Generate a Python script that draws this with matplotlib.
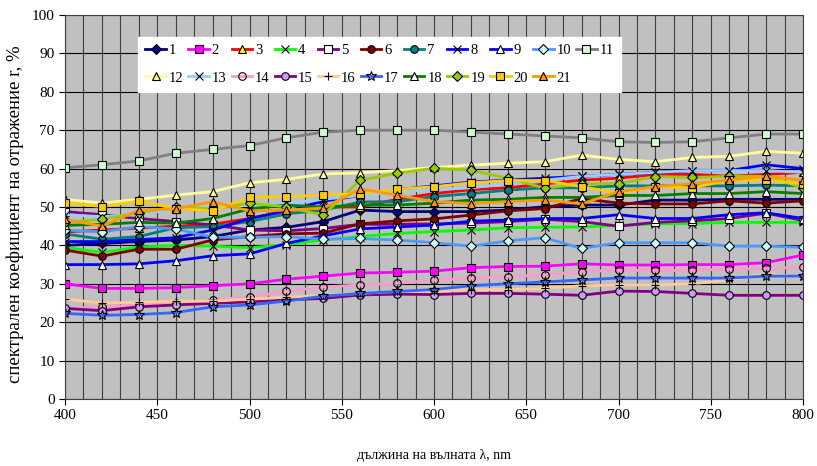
import numpy as np
import matplotlib
matplotlib.use('Agg')
import matplotlib.pyplot as plt
from matplotlib.ticker import MultipleLocator

plt.rcParams['font.family'] = ['Liberation Serif', 'DejaVu Serif']

wavelength = np.arange(400, 801, 20)

s1 = [40, 40.5, 41, 41.4, 42.3, 44, 44.7, 46.2, 49.2, 48.8, 48.8, 48.8, 49.2, 50.1, 50.5, 50.5, 51.8, 51.8, 52, 52, 52]
s2 = [30, 28.8, 28.8, 29, 29.5, 30, 31.2, 32, 32.8, 33, 33.3, 34.2, 34.5, 34.6, 35.2, 34.9, 34.9, 35, 35, 35.5, 37.5]
s3 = [43.5, 44, 44.5, 45, 45.5, 47, 49, 50, 50, 52, 53.5, 54.5, 55, 56, 57, 57.5, 58.5, 58.5, 58, 58.5, 59]
s4 = [39.5, 38.2, 39.6, 40, 39.8, 39.4, 40.2, 41.4, 42.3, 43.1, 43.6, 44, 44.6, 44.7, 44.8, 45.2, 45.6, 45.7, 46, 46, 46]
s5 = [48.8, 48, 47, 46.2, 45.3, 44, 43.8, 44.4, 45.5, 45.5, 45.6, 45.8, 46.2, 46.8, 46.2, 45, 46, 46.4, 47, 48.4, 46.5]
s6 = [38.8, 37.2, 39, 39, 41.4, 42.3, 43, 43.2, 45.6, 46.4, 46.9, 47.9, 49, 49.6, 52.2, 51, 50.8, 50.8, 51.6, 51, 51.6]
s7 = [43, 41.6, 42.3, 44.6, 44.9, 46.2, 48.2, 49.2, 51.3, 51.4, 52.7, 53.5, 54.4, 55, 55, 55.5, 55.5, 55.5, 55.5, 55.7, 55.5]
s8 = [41, 41, 41.5, 42, 44, 47, 49, 51.5, 53, 54.5, 55.5, 56.5, 57, 57.5, 58, 58.5, 59, 59.5, 59.5, 61, 60]
s9 = [35, 35, 35.2, 36, 37.3, 37.8, 40.5, 42.5, 44.3, 44.8, 45.3, 46.3, 46.6, 47, 47, 48, 47, 47, 48, 48.5, 47]
s10 = [44, 43.5, 44.9, 44.3, 42.1, 42.1, 42.3, 41.6, 41.8, 41.4, 40.7, 39.8, 41.2, 42, 39.2, 40.7, 40.7, 40.7, 39.8, 39.8, 39.5]
s11 = [60.2, 61, 62, 64, 65, 66, 68, 69.5, 70, 70, 70, 69.5, 69, 68.5, 68, 67, 66.8, 67, 68, 69, 69]
s12 = [52, 51, 52, 53.1, 54, 56.3, 57.2, 58.6, 58.9, 59.5, 60.3, 60.9, 61.4, 61.8, 63.5, 62.4, 61.8, 62.9, 63.2, 64.5, 64]
s13 = [48, 47.5, 48, 49.5, 50, 50.5, 51, 52, 53, 54, 54.5, 55, 56, 57, 58, 58.5, 59, 59.5, 59.5, 59.5, 59]
s14 = [23.5, 24, 24.5, 25, 25.8, 26.6, 28, 29.2, 29.7, 30.1, 31, 31.4, 31.9, 32.3, 33.2, 33.5, 33.5, 33.5, 33.8, 34, 34.3]
s15 = [23.6, 23, 24, 24.5, 24.9, 25.3, 25.8, 26.2, 27.1, 27.3, 27.2, 27.5, 27.5, 27.3, 27, 28.1, 28, 27.5, 27, 27, 27]
s16 = [26, 25, 25.2, 25.5, 25.5, 26, 26.5, 27, 27.5, 28, 28, 28.5, 28.5, 28.8, 29.5, 29.7, 29.7, 30, 31, 32.5, 31.7]
s17 = [22.3, 21.8, 22, 22.5, 24, 24.5, 25.5, 26.8, 27.5, 28, 28.5, 29.5, 30, 30.5, 31, 31.5, 31.5, 31.5, 31.5, 32, 32]
s18 = [45.2, 45.5, 46, 45.8, 47, 49.5, 50.5, 50, 50.5, 50.5, 51, 51.8, 52, 52.5, 52.5, 53, 53, 53.5, 53.5, 54, 53.5]
s19 = [46, 46.8, 48.5, 50, 49.5, 51, 50, 47.9, 57, 58.8, 60.1, 59.6, 57.5, 54.9, 56, 56.1, 57.9, 57.7, 58, 58, 55]
s20 = [51.1, 50.1, 51.6, 49.6, 49, 52.5, 52.7, 53.1, 53.5, 54.6, 55.3, 56.3, 56.9, 56.9, 55.3, 53.6, 55.3, 55, 57, 57, 56]
s21 = [46.8, 45, 49.2, 49.5, 51.4, 49, 49.2, 49.7, 54.7, 53.1, 51.4, 50.9, 51.4, 51.8, 50.8, 54, 55.3, 56.1, 57, 58, 57]

series = [s1, s2, s3, s4, s5, s6, s7, s8, s9, s10, s11,
          s12, s13, s14, s15, s16, s17, s18, s19, s20, s21]
labels = [str(i) for i in range(1, 22)]

# line colour, marker, marker face
styles = [
    ('#000080', 'D', '#000080'),
    ('#FF00FF', 's', '#FF00FF'),
    ('#FF0000', '^', '#FFFF00'),
    ('#00FF00', 'x', 'none'),
    ('#800080', 's', 'white'),
    ('#800000', 'o', '#800000'),
    ('#008080', 'o', '#008080'),
    ('#0000FF', 'x', 'none'),
    ('#0000FF', '^', 'white'),
    ('#4A9BFF', 'D', '#CCFFFF'),
    ('#808080', 's', '#CCFFCC'),
    ('#FFFF99', '^', '#FFFF99'),
    ('#99CCFF', 'x', 'none'),
    ('#FF99CC', 'o', 'none'),
    ('#800080', 'o', '#CC99FF'),
    ('#FFCC99', '+', 'none'),
    ('#3366FF', '*', 'none'),
    ('#008000', '^', 'white'),
    ('#99CC00', 'D', '#99CC00'),
    ('#FFCC00', 's', '#FFCC00'),
    ('#FF9900', '^', '#FF9900'),
]

fig = plt.figure(figsize=(8.17, 4.66), dpi=100)
ax = fig.add_axes([65/817, 1-399/466, (803-65)/817, (399-15)/466])
ax.set_facecolor('#C0C0C0')

handles = []
for ys, lab, (lc, mk, mf) in zip(series, labels, styles):
    ms = 5.5
    if mk == '*':
        ms = 7
    if mk == 'D':
        ms = 5
    h, = ax.plot(wavelength, ys, color=lc, lw=2, marker=mk, markersize=ms,
                 markerfacecolor=mf, markeredgecolor='black', markeredgewidth=0.8,
                 label=lab)
    handles.append(h)

ax.set_xlim(400, 800)
ax.set_ylim(0, 100)
ax.xaxis.set_major_locator(MultipleLocator(50))
ax.xaxis.set_minor_locator(MultipleLocator(10))
ax.yaxis.set_major_locator(MultipleLocator(10))
ax.grid(which='major', axis='y', color='black', lw=0.8)
ax.grid(which='both', axis='x', color='#404040', lw=0.8)
ax.set_axisbelow(True)
ax.tick_params(axis='x', which='minor', length=0)
ax.tick_params(axis='both', which='major', labelsize=11, length=4, direction='out')
for sp in ax.spines.values():
    sp.set_color('#404040')

ax.set_ylabel('спектрален коефициент на отражение r, %', fontsize=13.5, labelpad=5)
ax.yaxis.set_label_coords(-0.056, 0.48)
ax.set_xlabel('дължина на вълната λ, nm', fontsize=10, labelpad=19)

# legend filled column-wise, reorder so rows read 1..11 and 12..21
order = []
for k in range(10):
    order += [k, k + 11]
order.append(10)
leg = ax.legend([handles[i] for i in order], [labels[i] for i in order],
                ncol=11, loc='upper left', bbox_to_anchor=((138-65)/738, 1-(37-15)/384),
                frameon=True, fancybox=False, edgecolor='white', facecolor='white',
                framealpha=1, fontsize=10.5, handlelength=1.4, handletextpad=0.2,
                columnspacing=0.35, borderpad=0.5, labelspacing=0.95,
                borderaxespad=0)

fig.savefig('out.png', dpi=100)
